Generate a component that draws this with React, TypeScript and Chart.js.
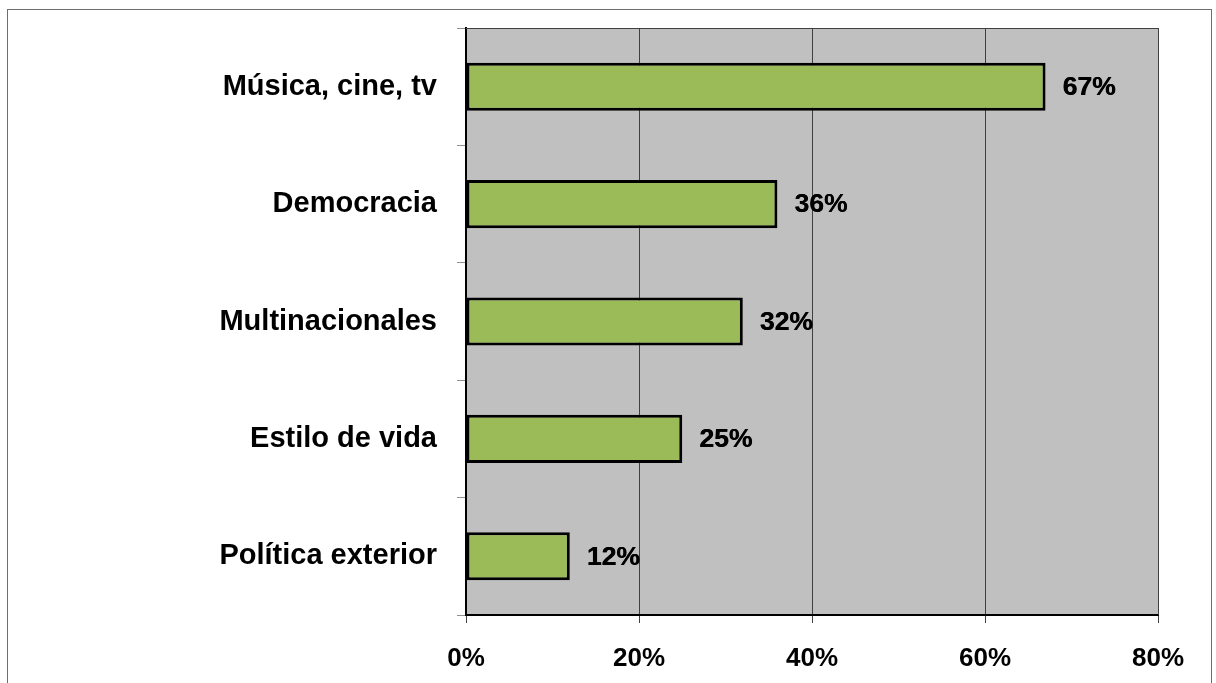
import React, { useEffect, useRef } from "react";
import { Chart, registerables } from "chart.js";

Chart.register(...registerables);

const categories = ["Música, cine, tv", "Democracia", "Multinacionales", "Estilo de vida", "Política exterior"];
const values = [67, 36, 32, 25, 12];
const xTicks = [0, 20, 40, 60, 80];

const FONT = "'Liberation Sans', Arial, sans-serif";

export default function App() {
  const ref = useRef<HTMLCanvasElement | null>(null);

  useEffect(() => {
    const canvas = ref.current;
    if (!canvas) return;

    const framePlugin = {
      id: "frame",
      beforeDraw(chart: any) {
        const { ctx, chartArea } = chart;
        ctx.save();
        ctx.fillStyle = "#ffffff";
        ctx.fillRect(0, 0, chart.width, chart.height);
        ctx.strokeStyle = "#6e6e6e";
        ctx.lineWidth = 1;
        ctx.strokeRect(7.5, 9.5, 1204, 700);
        ctx.fillStyle = "#c0c0c0";
        ctx.fillRect(chartArea.left, chartArea.top, chartArea.right - chartArea.left, chartArea.bottom - chartArea.top);
        ctx.restore();
      },
      afterDatasetsDraw(chart: any) {
        const { ctx, chartArea } = chart;
        ctx.save();
        ctx.strokeStyle = "#404040";
        ctx.lineWidth = 1;
        ctx.beginPath();
        ctx.moveTo(chartArea.left, chartArea.top + 0.5);
        ctx.lineTo(chartArea.right + 0.5, chartArea.top + 0.5);
        ctx.lineTo(chartArea.right + 0.5, chartArea.bottom);
        ctx.stroke();
        const meta = chart.getDatasetMeta(0);
        ctx.fillStyle = "#000000";
        ctx.font = `bold 26.5px ${FONT}`;
        ctx.textAlign = "left";
        ctx.textBaseline = "middle";
        meta.data.forEach((bar: any, i: number) => {
          const t = values[i] + "%";
          ctx.fillText(t, bar.x + 17, bar.y + 1);
          ctx.fillText(t, bar.x + 17.4, bar.y + 1);
        });
        ctx.restore();
      },
    };

    const chart = new Chart(canvas, {
      type: "bar",
      data: {
        labels: categories,
        datasets: [
          {
            data: values,
            backgroundColor: "#9bbb59",
            borderColor: "#000000",
            borderWidth: 3,
            borderSkipped: false,
            barPercentage: 0.41,
            categoryPercentage: 1,
          },
        ],
      },
      options: {
        indexAxis: "y",
        animation: false,
        responsive: false,
        devicePixelRatio: 1,
        layout: { padding: { top: 28, right: 58, left: 0, bottom: 0 } },
        plugins: { legend: { display: false }, tooltip: { enabled: false }, title: { display: false } },
        scales: {
          x: {
            type: "linear",
            position: "bottom",
            min: xTicks[0],
            max: xTicks[xTicks.length - 1],
            afterBuildTicks: (scale: any) => {
              scale.ticks = xTicks.map((v) => ({ value: v }));
            },
            afterFit: (scale: any) => {
              scale.height = 68;
              scale.paddingLeft = 0;
              scale.paddingRight = 0;
            },
            ticks: {
              color: "#000000",
              font: { family: FONT, size: 26, weight: "bold" },
              padding: 20,
              callback: (v: any) => v + "%",
              maxRotation: 0,
            },
            grid: {
              color: (c: any) => (c.tick && c.tick.value === 0 ? "rgba(0,0,0,0)" : "#404040"),
              tickColor: "#404040",
              lineWidth: 1,
              tickLength: 8,
              drawTicks: true,
            },
            border: { display: true, color: "#000000", width: 2 },
          },
          y: {
            type: "category",
            offset: true,
            afterFit: (scale: any) => {
              scale.width = 466;
              scale.paddingTop = 0;
              scale.paddingBottom = 0;
            },
            ticks: {
              color: "#000000",
              font: { family: FONT, size: 29, weight: "bold" },
              padding: 20,
            },
            grid: {
              offset: true,
              drawOnChartArea: false,
              drawTicks: true,
              tickLength: 9,
              tickColor: "#909090",
              lineWidth: 1,
            },
            border: { display: true, color: "#000000", width: 2 },
          },
        },
      },
      plugins: [framePlugin],
    } as any);

    return () => chart.destroy();
  }, []);

  return (
    <div style={{ position: "fixed", left: 0, top: 0, width: 1216, height: 683, background: "#fff" }}>
      <canvas ref={ref} width={1216} height={683} style={{ display: "block", width: 1216, height: 683 }} />
    </div>
  );
}
